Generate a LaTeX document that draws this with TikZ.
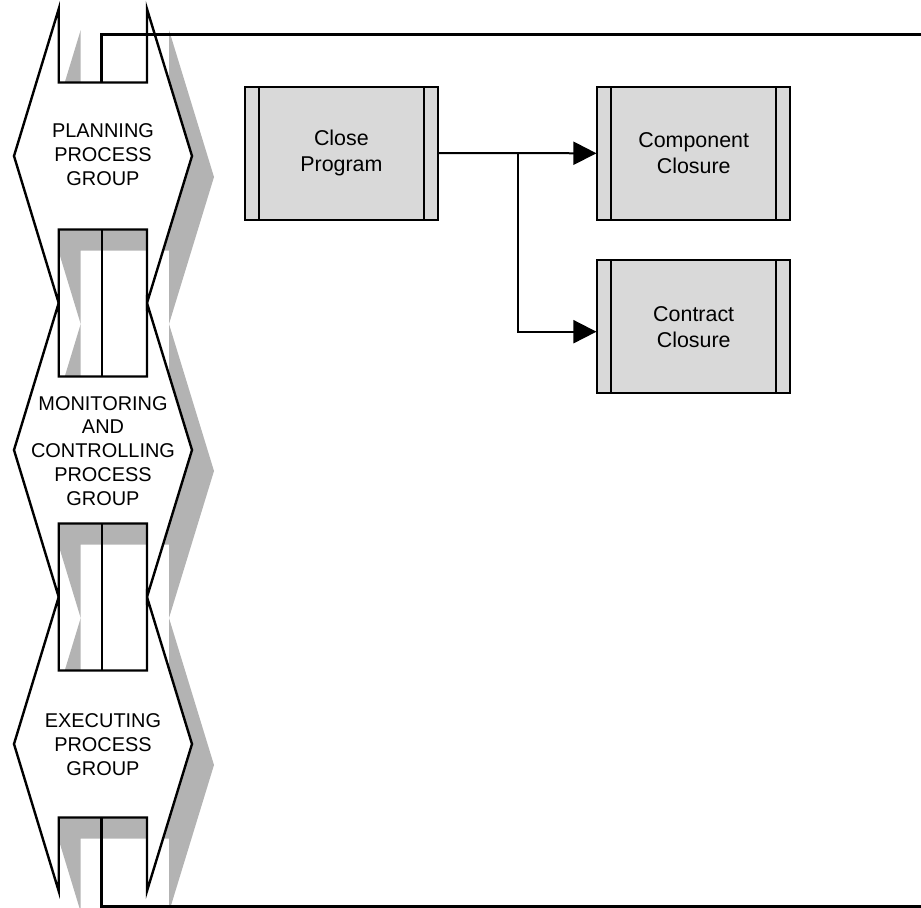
\documentclass[tikz,border=0pt]{standalone}
\usepackage{fontspec}
\setmainfont{Liberation Sans}
\usetikzlibrary{arrows.meta,calc}
\definecolor{boxgray}{HTML}{D9D9D9}
\definecolor{shadowgray}{HTML}{B3B3B3}

\tikzset{
  groupline/.style={draw=black, line width=2.4bp, line join=miter, fill=white},
  groupshadow/.style={fill=shadowgray, shift={(22,21)}},
  grouptext/.style={align=center, inner sep=0pt, font=\fontsize{20}{24}\selectfont},
  linkline/.style={draw=black, line width=2.4bp},
  frameline/.style={draw=black, line width=2.8bp},
  procbox/.style={rectangle, draw=black, line width=2bp, fill=boxgray,
    minimum width=192.5bp, minimum height=133bp, inner sep=0pt, align=center,
    font=\fontsize{21.5}{26}\selectfont,
    path picture={
      \draw[line width=2bp]
        ([xshift=13.8bp]path picture bounding box.north west) --
        ([xshift=13.8bp]path picture bounding box.south west);
      \draw[line width=2bp]
        ([xshift=-13.8bp]path picture bounding box.north east) --
        ([xshift=-13.8bp]path picture bounding box.south east);
    }},
  flow/.style={draw=black, line width=2bp, -{Triangle[length=23bp,width=23bp]}}
}

\begin{document}
\begin{tikzpicture}[x=1bp,y=-1bp]
\useasboundingbox (0,0) rectangle (921,908);

% drop shadows of the three process group shapes
\foreach \c in {156,450,744} {
  \path[groupshadow]
    (58.7,\c-147) -- (14,\c) -- (58.7,\c+147) -- (58.7,\c+73.5) --
    (147,\c+73.5) -- (147,\c+147) -- (192,\c) -- (147,\c-147) --
    (147,\c-73.5) -- (58.7,\c-73.5) -- cycle;
}

% notched process group shapes
\foreach \c in {156,450,744} {
  \path[groupline]
    (58.7,\c-147) -- (14,\c) -- (58.7,\c+147) -- (58.7,\c+73.5) --
    (147,\c+73.5) -- (147,\c+147) -- (192,\c) -- (147,\c-147) --
    (147,\c-73.5) -- (58.7,\c-73.5) -- cycle;
}

\node[grouptext] (plan) at (103,155) {PLANNING\\PROCESS\\GROUP};
\node[grouptext] (moni) at (103,451) {MONITORING\\AND\\CONTROLLING\\PROCESS\\GROUP};
\node[grouptext] (exec) at (103,745) {EXECUTING\\PROCESS\\GROUP};

% links through the notches and the outer frame
\coordinate (topin)  at (101.7,82.5);
\coordinate (topout) at (921,34.3);
\coordinate (l1a) at (101.7,229.5);
\coordinate (l1b) at (101.7,376.5);
\coordinate (l2a) at (101.7,523.5);
\coordinate (l2b) at (101.7,670.5);
\coordinate (botin)  at (101.7,817.5);
\coordinate (botout) at (921,906.3);

\path[linkline] (l1a) -- (l1b);
\path[linkline] (l2a) -- (l2b);
\path[frameline] (topin) |- (topout);
\path[frameline] (botin) |- (botout);

% processes
\node[procbox] (cp) at (341.4,153) {Close\\Program};
\node[procbox] (cc) at (693.7,153.3) {Component\\Closure};
\node[procbox] (kc) at (693.7,326.7) {Contract\\Closure};

\coordinate (br) at ($(cp.east)!0.5!(cc.west)$);
\draw[flow] (cp.east) -- (cc.west);
\draw[flow] (br) |- ([yshift=-5bp]kc.west);
\end{tikzpicture}
\end{document}
